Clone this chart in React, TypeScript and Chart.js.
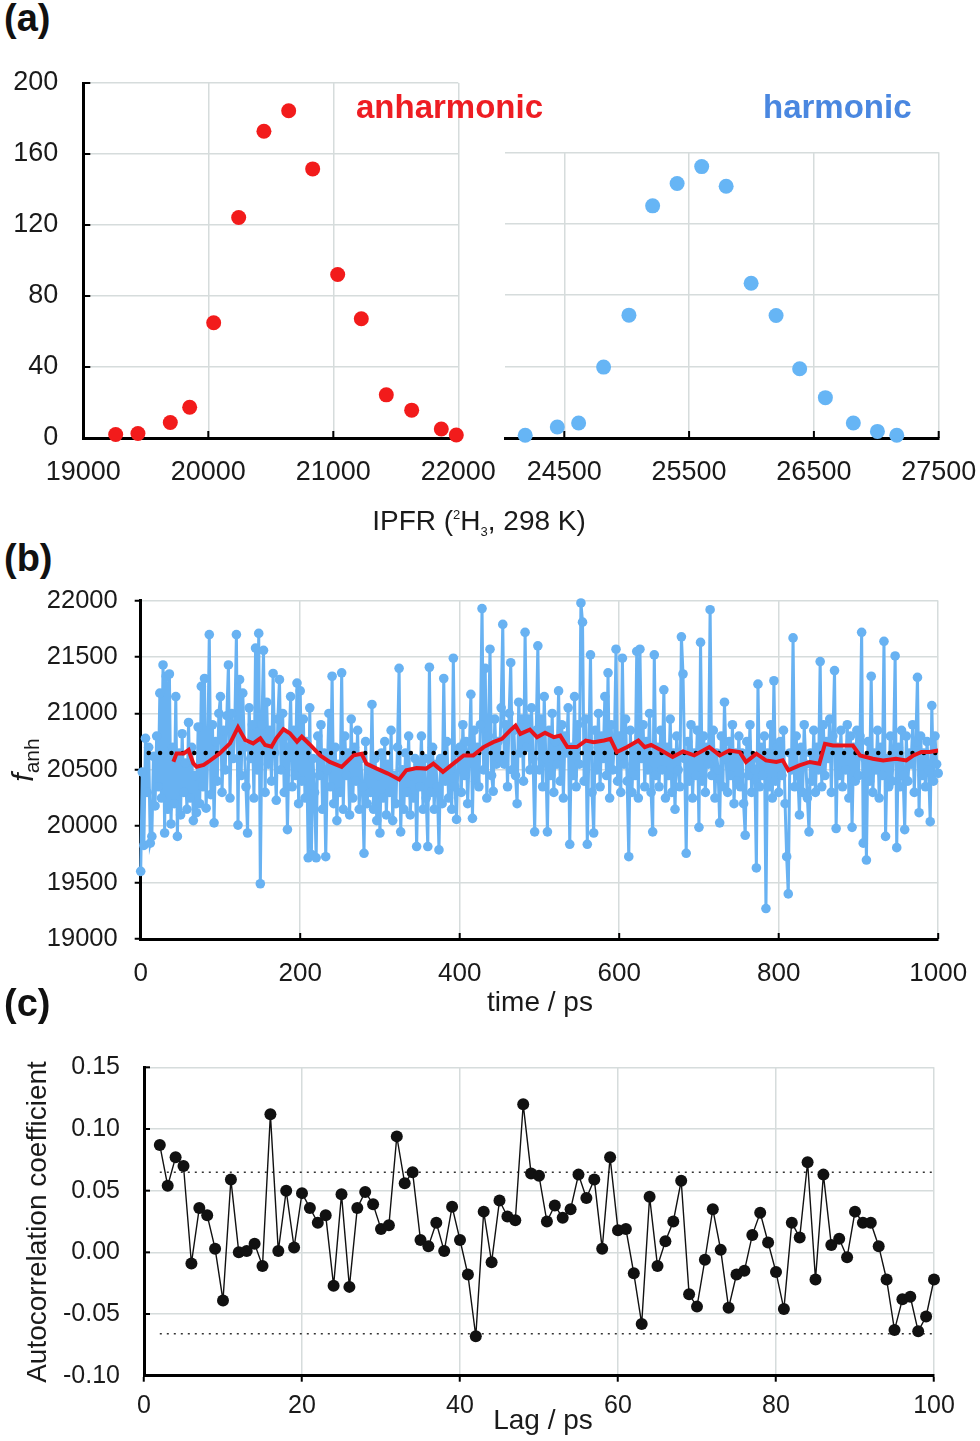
import React, { useEffect, useRef } from "react";
import { Chart, registerables } from "chart.js";

Chart.register(...registerables);

const FONT = "'Liberation Sans', Arial, Helvetica, sans-serif";
const GRID = "#d6dcdc";
const AXIS = "#000000";
const TXT = "#1a1a1a";

// ---------- Panel (a): IPFR histograms ----------
const anhIPFR = [19259, 19437, 19696, 19851, 20043, 20243, 20445, 20643, 20835, 21035, 21224, 21424, 21627, 21864, 21984];
const anhCount = [2, 2.5, 8.7, 17.3, 64.9, 124.2, 172.8, 184.4, 151.6, 92.1, 67.2, 24.3, 15.7, 5.1, 1.7];
const harIPFR = [24187, 24444, 24615, 24815, 25018, 25208, 25404, 25601, 25797, 25997, 26197, 26386, 26592, 26816, 27009, 27164];
const harCount = [1.5, 6.2, 8.4, 39.7, 68.8, 130, 142.5, 152, 141, 86.7, 68.6, 38.8, 22.6, 8.4, 3.7, 1.5];
const harTicks = [24500, 25500, 26500, 27500];

// ---------- Panel (b): f_anh time series (every 2 ps) ----------
const fanh000 = [19600, 20480, 19830, 20780, 20300, 20700, 19850, 19910, 20620, 20180, 20800, 20350, 21180, 20250, 21430, 19940, 21330, 20150, 21350, 20020, 20700, 20200, 21150, 19910, 20650,
  20100, 20820, 20300, 20560, 20150, 20920, 20250, 20700, 20050, 20450, 20120, 20880, 20200, 21240, 20350, 21310, 20160, 20600, 21700, 20280, 20900, 20030, 20750, 20400, 21000];
const fanh100 = [21150, 20300, 20850, 20500, 20980, 21430, 20250, 21000, 20600, 20900, 21700, 20010, 21300, 20450, 21180, 20700, 20350, 19940, 21050, 20600, 20900, 20250, 21580, 20500, 21710,
  19490, 20900, 21560, 20300, 21100, 20550, 20850, 20400, 21355, 20650, 20230, 20950, 21300, 20500, 21000, 20300, 20800, 19970, 20700, 21150, 20350, 20850, 20450, 21270, 20200];
const fanh200 = [21200, 20400, 20950, 20250, 20750, 19720, 21050, 19750, 20600, 20300, 19720, 20800, 20450, 20900, 20150, 20650, 19730, 20500, 21000, 20350, 21330, 20200, 20700, 20050, 20550,
  20300, 21360, 20150, 20800, 20450, 20650, 20100, 20950, 20250, 20700, 20400, 20850, 20150, 20600, 20350, 19760, 20750, 20200, 20500, 20300, 21080, 20150, 20600, 20050, 20450];
const fanh300 = [19940, 20650, 20250, 20750, 20100, 20550, 20300, 20850, 20050, 20450, 20200, 20700, 21400, 19950, 20500, 20150, 20650, 20300, 20800, 20100, 20450, 20250, 20600, 19820, 20550,
  20350, 20800, 20150, 20600, 20250, 19820, 21410, 20300, 20700, 20150, 20550, 20350, 19790, 20600, 20200, 21310, 20400, 20750, 20250, 20500, 20150, 21490, 20350, 20060, 20650];
const fanh400 = [20700, 20300, 20900, 20450, 20750, 20200, 20650, 21170, 20070, 20850, 20400, 20700, 20350, 20900, 21930, 20500, 21400, 20250, 20800, 21570, 20450, 20310, 20950, 20550, 20750,
  20600, 21050, 21790, 20550, 20900, 20350, 21000, 21450, 20500, 20850, 20450, 20200, 21100, 20650, 20950, 20400, 21720, 20700, 20950, 20500, 21050, 20600, 19950, 20850, 21600];
const fanh500 = [20500, 20950, 20350, 21150, 20600, 19950, 20850, 20450, 21000, 20300, 20750, 20550, 21200, 20400, 20900, 20250, 20800, 20650, 21050, 19840, 20700, 20450, 21150, 20350, 20900,
  20550, 21980, 21810, 20400, 20950, 19840, 20700, 21520, 20300, 19940, 20850, 20500, 21000, 20350, 20800, 20600, 21150, 20450, 21360, 20250, 20900, 20500, 20750, 21570, 20400];
const fanh600 = [20800, 20300, 21490, 20550, 20950, 20400, 19730, 20850, 20300, 20700, 20450, 21550, 20250, 21570, 20600, 20900, 20350, 20750, 20500, 21000, 20300, 19950, 21520, 20450, 20700,
  20350, 20850, 20500, 21210, 20250, 20700, 20450, 20950, 20300, 20650, 20150, 20800, 20500, 20350, 21680, 21350, 20600, 19760, 20750, 20400, 20900, 20250, 20650, 20450, 20850];
const fanh700 = [19990, 21630, 20400, 20800, 20300, 20700, 20550, 21920, 20450, 20850, 20250, 20650, 20500, 20030, 20800, 20350, 21100, 20600, 20300, 20750, 20450, 20900, 20200, 20650, 20400,
  20800, 20350, 20650, 20200, 19920, 20750, 20450, 20900, 20300, 20600, 20500, 19630, 21260, 20350, 20700, 20450, 20800, 19270, 20650, 20350, 20900, 20250, 21290, 20400, 20700];
const fanh800 = [20300, 20750, 20450, 20850, 20200, 19730, 19400, 20650, 20500, 21670, 20350, 20800, 20450, 20100, 20700, 20300, 20900, 20550, 20250, 19950, 20650, 20400, 20850, 20300, 20700,
  20500, 21460, 20350, 20900, 20450, 20750, 20600, 20950, 20300, 20800, 21380, 19980, 20700, 20450, 20850, 20350, 20650, 20500, 20900, 20250, 20800, 19990, 20700, 20400, 20850];
const fanh900 = [20450, 20800, 21720, 19850, 20600, 19700, 20750, 20400, 21330, 20300, 20650, 20500, 20850, 20250, 20700, 20450, 21640, 19910, 20600, 20350, 20800, 20400, 20650, 21510, 19810,
  20700, 20350, 20850, 20450, 19970, 20800, 20400, 20650, 20550, 20900, 20300, 20750, 21320, 20120, 20800, 20450, 20650, 20350, 20750, 20500, 20040, 21070, 20400, 20800, 20550, 20470];
const fanhStepPs = 2;

// running average (red)
const avgTime = [41, 45, 54, 60, 66, 70, 79, 85, 99, 112, 122, 131, 141, 150, 156, 164, 170, 179, 187, 196, 202, 212, 225, 237, 252, 267, 277, 283, 296, 310, 324, 333, 346, 358, 367, 379, 392, 405, 417, 430, 442, 453, 463, 470, 476, 488, 497, 507, 518, 526, 535, 547, 558, 568, 581, 589, 597, 610, 624, 632, 640, 653, 667, 680, 694, 713, 726, 738, 751, 759, 772, 784, 797, 805, 812, 826, 839, 851, 858, 868, 880, 893, 902, 918, 931, 947, 960, 969, 979, 989, 1000];
const avgFanh = [20572, 20646, 20646, 20676, 20557, 20528, 20543, 20572, 20646, 20735, 20877, 20765, 20735, 20780, 20720, 20705, 20780, 20860, 20824, 20750, 20794, 20725, 20628, 20570, 20526, 20628, 20643, 20555, 20511, 20467, 20414, 20497, 20517, 20511, 20555, 20482, 20555, 20628, 20628, 20702, 20746, 20775, 20848, 20892, 20819, 20857, 20790, 20828, 20790, 20804, 20702, 20702, 20760, 20746, 20760, 20775, 20658, 20702, 20760, 20702, 20722, 20672, 20614, 20663, 20628, 20702, 20628, 20672, 20658, 20570, 20643, 20584, 20570, 20584, 20496, 20540, 20570, 20555, 20731, 20716, 20716, 20716, 20628, 20599, 20584, 20599, 20584, 20628, 20658, 20658, 20672];
const meanFanh = 20650;
const meanSpan = [10, 1000];

// ---------- Panel (c): autocorrelation ----------
const firstLag = 2;
const acf = [0.087, 0.054, 0.077, 0.070, -0.009, 0.036, 0.030, 0.003, -0.039, 0.059, 0.000, 0.001, 0.007, -0.011, 0.112, 0.001, 0.050, 0.004, 0.048, 0.036, 0.024, 0.030, -0.027, 0.047, -0.028, 0.036, 0.049, 0.039, 0.019, 0.022, 0.094, 0.056, 0.065, 0.010, 0.005, 0.024, 0.001, 0.037, 0.010, -0.018, -0.068, 0.033, -0.008, 0.042, 0.029, 0.026, 0.120, 0.064, 0.062, 0.025, 0.038, 0.028, 0.035, 0.063, 0.044, 0.059, 0.003, 0.077, 0.018, 0.019, -0.017, -0.058, 0.045, -0.011, 0.009, 0.025, 0.058, -0.034, -0.044, -0.006, 0.035, 0.002, -0.045, -0.018, -0.015, 0.014, 0.032, 0.008, -0.016, -0.046, 0.024, 0.012, 0.073, -0.022, 0.063, 0.006, 0.011, -0.004, 0.033, 0.024, 0.024, 0.005, -0.022, -0.063, -0.038, -0.036, -0.064, -0.052, -0.022];
const acfUpper = 0.065;
const acfLower = -0.066;

// ---------- helpers ----------
const innerTicks = {
  id: "innerTicks",
  beforeDatasetsDraw(chart: any, _a: any, opts: any) {
    const { ctx, chartArea, scales } = chart;
    ctx.save();
    ctx.strokeStyle = "#000";
    ctx.lineWidth = 2;
    if (opts.x && scales.x) {
      const s = scales.x;
      s.ticks.forEach((_t: any, i: number) => {
        const px = s.getPixelForTick(i);
        ctx.beginPath();
        ctx.moveTo(px, chartArea.bottom);
        ctx.lineTo(px, chartArea.bottom - opts.x);
        ctx.stroke();
      });
    }
    if (opts.y && scales.y) {
      const s = scales.y;
      s.ticks.forEach((_t: any, i: number) => {
        const py = s.getPixelForTick(i);
        ctx.beginPath();
        ctx.moveTo(chartArea.left, py);
        ctx.lineTo(chartArea.left + opts.y, py);
        ctx.stroke();
      });
    }
    ctx.restore();
  },
};

function base(extra: any) {
  return {
    animation: false,
    responsive: false,
    events: [],
    plugins: { legend: { display: false }, tooltip: { enabled: false }, ...(extra || {}) },
  };
}

// fix axis size and drop the automatic label-overflow padding
const fixH = (h: number) => (s: any) => {
  s.height = h;
  s.paddingLeft = 0; s.paddingRight = 0; s.paddingTop = 0; s.paddingBottom = 0;
};
const fixW = (w: number) => (s: any) => {
  s.width = w;
  s.paddingLeft = 0; s.paddingRight = 0; s.paddingTop = 0; s.paddingBottom = 0;
};

function CanvasChart({ config, left, top, width, height }: any) {
  const ref = useRef<HTMLCanvasElement | null>(null);
  useEffect(() => {
    if (!ref.current) return;
    const c = new Chart(ref.current, config);
    return () => c.destroy();
  }, []);
  return (
    <canvas
      ref={ref}
      width={width}
      height={height}
      style={{ position: "absolute", left, top, width, height }}
    />
  );
}

const tickFont = (size: number) => ({ family: FONT, size });

// ---------- configs ----------
const cfgAnh: any = {
  type: "scatter",
  data: {
    datasets: [
      {
        data: anhIPFR.map((x, i) => ({ x, y: anhCount[i] })),
        pointRadius: 7.5,
        pointBackgroundColor: "#f21b1b",
        pointBorderWidth: 0,
        clip: false,
      },
    ],
  },
  options: {
    ...base({ innerTicks: { x: 7, y: 7 } }),
    layout: { padding: { left: 0, top: 23, right: 41.7, bottom: 0 } },
    scales: {
      x: {
        type: "linear",
        min: 19000,
        max: 22000,
        afterFit: fixH(82),
        ticks: { stepSize: 1000, autoSkip: false, maxRotation: 0, padding: 18, color: TXT, font: tickFont(27), callback: (v: any) => String(v) },
        grid: { color: GRID, lineWidth: 1.5, drawTicks: false },
        border: { color: AXIS, width: 3 },
      },
      y: {
        min: 0,
        max: 200,
        afterFit: fixW(83.3),
        ticks: { stepSize: 40, autoSkip: false, padding: 25, color: TXT, font: tickFont(27), callback: (v: any) => String(v) },
        grid: { color: GRID, lineWidth: 1.5, drawTicks: false },
        border: { color: AXIS, width: 3 },
      },
    },
  },
  plugins: [innerTicks],
};

const cfgHar: any = {
  type: "scatter",
  data: {
    datasets: [
      {
        data: harIPFR.map((x, i) => ({ x, y: harCount[i] })),
        pointRadius: 7.5,
        pointBackgroundColor: "#66b5f5",
        pointBorderWidth: 0,
        clip: false,
      },
    ],
  },
  options: {
    ...base({ innerTicks: { x: 7 } }),
    layout: { padding: { left: 15, top: 92.3, right: 41.3, bottom: 0 } },
    scales: {
      x: {
        type: "linear",
        min: 24025,
        max: 27500,
        afterBuildTicks: (s: any) => { s.ticks = harTicks.map((v) => ({ value: v })); },
        afterFit: fixH(82),
        ticks: { autoSkip: false, maxRotation: 0, padding: 18, color: TXT, font: tickFont(27), callback: (v: any) => String(v) },
        grid: { color: GRID, lineWidth: 1.5, drawTicks: false },
        border: { color: AXIS, width: 3 },
      },
      y: {
        min: 0,
        max: 160,
        afterFit: fixW(0),
        ticks: { stepSize: 40, display: false },
        grid: { color: GRID, lineWidth: 1.5, drawTicks: false },
        border: { display: false },
      },
    },
  },
  plugins: [innerTicks],
};

const allFanh = [...fanh000, ...fanh100, ...fanh200, ...fanh300, ...fanh400, ...fanh500, ...fanh600, ...fanh700, ...fanh800, ...fanh900];

const cfgB: any = {
  type: "scatter",
  data: {
    datasets: [
      {
        data: allFanh.map((y, i) => ({ x: i * fanhStepPs, y })),
        showLine: true,
        borderColor: "#68b2f2",
        borderWidth: 3,
        pointRadius: 4.8,
        pointBackgroundColor: "#68b2f2",
        pointBorderWidth: 0,
        clip: false,
        order: 3,
      },
      {
        data: meanSpan.map((x) => ({ x, y: meanFanh })),
        showLine: true,
        borderColor: "#000",
        borderWidth: 4.5,
        borderDash: [0, 11.4],
        borderCapStyle: "round",
        pointRadius: 0,
        order: 2,
      },
      {
        data: avgTime.map((x, i) => ({ x, y: avgFanh[i] })),
        showLine: true,
        borderColor: "#e8141b",
        borderWidth: 4,
        pointRadius: 0,
        order: 1,
      },
    ],
  },
  options: {
    ...base({ innerTicks: { x: 6 } }),
    layout: { padding: { left: 0, top: 20.7, right: 41.8, bottom: 0 } },
    scales: {
      x: {
        type: "linear",
        min: 0,
        max: 1000,
        afterFit: fixH(81),
        ticks: { stepSize: 200, autoSkip: false, maxRotation: 0, padding: 19, color: TXT, font: tickFont(26), callback: (v: any) => String(v) },
        grid: { color: GRID, lineWidth: 1.5, drawTicks: false },
        border: { color: AXIS, width: 3 },
      },
      y: {
        min: 19000,
        max: 22000,
        afterFit: fixW(140.7),
        ticks: { stepSize: 500, autoSkip: false, padding: 17, color: TXT, font: tickFont(25.5), callback: (v: any) => String(v) },
        grid: { color: GRID, lineWidth: 1.5, drawTicks: true, tickLength: 6, tickColor: "#000", tickWidth: 2 },
        border: { color: AXIS, width: 3 },
      },
    },
  },
  plugins: [innerTicks],
};

const lastLag = firstLag + acf.length - 1;

const cfgC: any = {
  type: "scatter",
  data: {
    datasets: [
      {
        data: acf.map((y, i) => ({ x: firstLag + i, y })),
        showLine: true,
        borderColor: "#111",
        borderWidth: 1.4,
        pointRadius: 6,
        pointBackgroundColor: "#111",
        pointBorderWidth: 0,
        clip: false,
        order: 1,
      },
      {
        data: [{ x: firstLag, y: acfUpper }, { x: lastLag, y: acfUpper }],
        showLine: true,
        borderColor: "#333",
        borderWidth: 1.5,
        borderDash: [2, 5],
        pointRadius: 0,
        order: 2,
      },
      {
        data: [{ x: firstLag, y: acfLower }, { x: lastLag, y: acfLower }],
        showLine: true,
        borderColor: "#333",
        borderWidth: 1.5,
        borderDash: [2, 5],
        pointRadius: 0,
        order: 2,
      },
    ],
  },
  options: {
    ...base({ innerTicks: { y: 6 } }),
    layout: { padding: { left: 0, top: 27.3, right: 46, bottom: 0 } },
    scales: {
      x: {
        type: "linear",
        min: 0,
        max: 100,
        afterFit: fixH(65.3),
        ticks: { stepSize: 20, autoSkip: false, maxRotation: 0, padding: 9.5, color: TXT, font: tickFont(25), callback: (v: any) => String(v) },
        grid: { color: GRID, lineWidth: 1.5, drawTicks: true, tickLength: 6, tickColor: "#000", tickWidth: 2 },
        border: { color: AXIS, width: 3 },
      },
      y: {
        min: -0.1,
        max: 0.15,
        afterFit: fixW(144),
        ticks: {
          stepSize: 0.05,
          autoSkip: false,
          padding: 24,
          color: TXT,
          font: tickFont(25),
          callback: (v: any) => (Math.abs(v) < 1e-9 ? "0.00" : Number(v).toFixed(2)),
        },
        grid: { color: GRID, lineWidth: 1.5, drawTicks: false },
        border: { color: AXIS, width: 3 },
      },
    },
  },
  plugins: [innerTicks],
};

function Txt({ x, y, size, children, style }: any) {
  return (
    <div
      style={{
        position: "absolute",
        left: x,
        top: y,
        transform: "translate(-50%, -50%)",
        fontFamily: FONT,
        fontSize: size,
        lineHeight: 1,
        color: TXT,
        whiteSpace: "nowrap",
        ...style,
      }}
    >
      {children}
    </div>
  );
}

function PanelLabel({ x, y, children }: any) {
  return (
    <div
      style={{
        position: "absolute",
        left: x,
        top: y,
        fontFamily: FONT,
        fontWeight: "bold",
        fontSize: 38,
        lineHeight: "40px",
        color: "#111",
        whiteSpace: "nowrap",
      }}
    >
      {children}
    </div>
  );
}

export default function App() {
  return (
    <div
      style={{
        position: "absolute",
        left: 0,
        top: 0,
        width: 980,
        height: 1441,
        background: "#fff",
        overflow: "hidden",
      }}
    >
      <CanvasChart config={cfgAnh} left={0} top={60} width={500} height={460} />
      <CanvasChart config={cfgHar} left={490} top={60} width={490} height={460} />
      <CanvasChart config={cfgB} left={0} top={580} width={980} height={440} />
      <CanvasChart config={cfgC} left={0} top={1040} width={980} height={401} />

      <PanelLabel x={4} y={-2}>(a)</PanelLabel>
      <PanelLabel x={4} y={538}>(b)</PanelLabel>
      <PanelLabel x={4} y={983}>(c)</PanelLabel>

      <div style={{ position: "absolute", left: 356, top: 90, fontFamily: FONT, fontWeight: "bold", fontSize: 33, lineHeight: "33px", color: "#ee1d23", whiteSpace: "nowrap" }}>
        anharmonic
      </div>
      <div style={{ position: "absolute", left: 763, top: 90, fontFamily: FONT, fontWeight: "bold", fontSize: 33, lineHeight: "33px", color: "#4a87e0", whiteSpace: "nowrap" }}>
        harmonic
      </div>

      <Txt x={479} y={521} size={28}>
        IPFR (<span style={{ fontSize: 13, position: "relative", top: -11 }}>2</span>H
        <span style={{ fontSize: 13, position: "relative", top: 6 }}>3</span>, 298 K)
      </Txt>

      <Txt x={540} y={1002} size={28}>time / ps</Txt>
      <Txt x={543} y={1420} size={28}>Lag / ps</Txt>

      <Txt x={23} y={760} size={30} style={{ transform: "translate(-50%, -50%) rotate(-90deg)" }}>
        <span style={{ fontStyle: "italic" }}>f</span>
        <span style={{ fontSize: 21, position: "relative", top: 6 }}>anh</span>
      </Txt>
      <Txt x={37} y={1222} size={28} style={{ transform: "translate(-50%, -50%) rotate(-90deg)" }}>
        Autocorrelation coefficient
      </Txt>
    </div>
  );
}
